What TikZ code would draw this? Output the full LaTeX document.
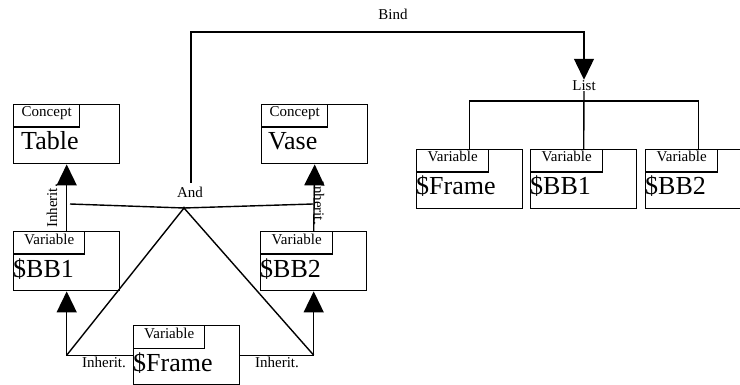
\documentclass[tikz,border=0pt]{standalone}
\usepackage{fontspec}
\setmainfont{Liberation Serif}
\usetikzlibrary{arrows.meta,calc}
\tikzset{
  ln/.style={line width=1.4pt},
  outer/.style={draw, ln, minimum width=106pt, minimum height=59pt, inner sep=0pt},
  lab/.style={draw, ln, minimum height=22.5pt, inner sep=0pt},
  smalltxt/.style={inner sep=0pt, font=\fontsize{15}{17}\selectfont},
  bigtxt/.style={inner sep=0pt, font=\fontsize{26}{30}\selectfont},
  inh/.style={ln, -{Triangle[length=21pt,width=20pt]}},
}
\newcommand{\umlbox}[7]{%
  \node[outer, anchor=north west] (#1) at (#2,#3) {};
  \node[lab, anchor=north west, minimum width=#4] (#1-l) at (#1.north west) {};
  \node[smalltxt, anchor=base] (#1-lt) at ($(#1-l.north)+(0,13)$) {#5};
  \node[bigtxt, anchor=base west] (#1-t) at ($(#1.north west)+(#7,46)$) {#6};
}
\begin{document}
\begin{tikzpicture}[x=1pt,y=-1pt]
\useasboundingbox (0,0) rectangle (740,385);
\clip (0,0) rectangle (740,385);
% left structure
\umlbox{tab}{13}{104}{66pt}{Concept}{Table}{8}
\umlbox{vase}{261}{104}{66pt}{Concept}{Vase}{7}
\umlbox{bbone}{13}{231}{71pt}{Variable}{\$BB1}{0}
\umlbox{bbtwo}{260}{231}{72pt}{Variable}{\$BB2}{0}
\umlbox{frame}{133}{325}{71pt}{Variable}{\$Frame}{0}
% list boxes
\umlbox{lone}{416}{149}{72pt}{Variable}{\$Frame}{0}
\umlbox{ltwo}{530}{149}{72pt}{Variable}{\$BB1}{0}
\umlbox{lthree}{645}{149}{72pt}{Variable}{\$BB2}{0}
% inheritance arrows
\draw[inh] (bbone.north) -- (tab.south);
\draw[inh] (bbtwo.north) -- (vase.south);
\node[smalltxt, rotate=90] (inhA) at (52,206) {Inherit.};
\node[smalltxt, rotate=-90] (inhB) at (319,203) {Inherit.};
\draw[inh] (frame.west) -| (bbone.south);
\draw[inh] (frame.east) -| (bbtwo.south);
\node[smalltxt] (inhC) at (104,362) {Inherit.};
\node[smalltxt] (inhD) at (277,362) {Inherit.};
% And
\coordinate (apex) at (184,208);
\coordinate (andl) at (70,204);
\coordinate (andr) at (313,204);
\draw[ln] (bbone.south |- frame.west) -- (apex) -- (bbtwo.south |- frame.west);
\draw[ln] (andl) -- (apex) -- (andr);
\fill (apex) circle (1.6pt);
\node[smalltxt] (and) at (190,192) {And};
% Bind
\node[smalltxt] (list) at (584,86) {List};
\node[smalltxt] (bind) at (393,14) {Bind};
\coordinate (bindtop) at (191,32);
\draw[ln, -{Triangle[length=21pt,width=20pt]}] ($(and.north)+(1,-4)$) -- (bindtop) -| ($(list.north)+(0,-1)$);
% list tree
\coordinate (tree) at (470,101);
\draw[ln] (list.south) -- (ltwo.north);
\draw[ln] (lone.north) |- (tree -| lthree.north) -- (lthree.north);
\end{tikzpicture}
\end{document}
